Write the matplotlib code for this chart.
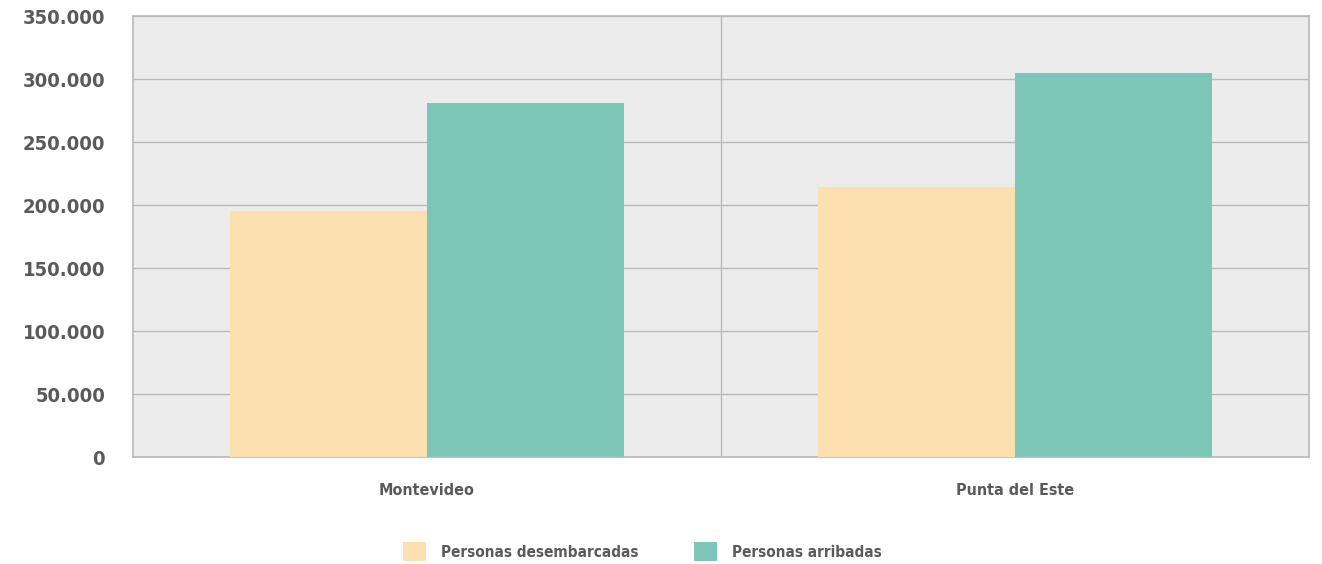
import numpy as np
import matplotlib.pyplot as plt
from matplotlib.patches import Patch
from matplotlib.ticker import FuncFormatter

plt.rcParams['font.family'] = ['DejaVu Sans']
plt.rcParams['font.stretch'] = 'condensed'
plt.rcParams['font.weight'] = 'bold'

# data
ports = ["Montevideo", "Punta del Este"]
desembarcadas = [195000, 214000]
arribadas = [281000, 305000]
series_names = ["Personas desembarcadas", "Personas arribadas"]
colors = ["#fde0b0", "#7cc5b7"]
text_color = "#5a5a5a"
grid_color = "#b9b9b9"

fig = plt.figure(figsize=(13.22, 5.64), dpi=100)
ax = fig.add_axes([0.1006, 0.1897, 0.8896, 0.7819])
ax.set_facecolor("#ececec")

x = np.arange(len(ports)) + 0.5
w = 0.335
ax.bar(x - w / 2, desembarcadas, w, color=colors[0], zorder=3)
ax.bar(x + w / 2, arribadas, w, color=colors[1], zorder=3)

ax.set_xlim(0, 2)
ax.set_ylim(0, 350000)
ax.set_yticks(np.arange(0, 350001, 50000))
ax.yaxis.set_major_formatter(FuncFormatter(lambda v, p: f"{int(v):,}".replace(",", ".")))
ax.grid(axis='y', color=grid_color, linewidth=1.0, zorder=1)
ax.axvline(1, color=grid_color, linewidth=1.0, zorder=1)

ax.set_xticks(x)
ax.set_xticklabels(ports)
ax.tick_params(axis='x', length=0, pad=19, labelsize=11.5, labelcolor=text_color)
ax.tick_params(axis='y', length=0, pad=20, labelsize=14.5, labelcolor=text_color)

for s in ax.spines.values():
    s.set_color(grid_color)
    s.set_linewidth(1.2)

handles = [Patch(facecolor=c, edgecolor='none') for c in colors]
leg = fig.legend(handles, series_names, loc='center', bbox_to_anchor=(0.486, 0.022),
                 ncol=2, frameon=False, fontsize=11, handlelength=1.5, handleheight=1.5,
                 columnspacing=3.6, handletextpad=1.0)
for t in leg.get_texts():
    t.set_color(text_color)

fig.savefig("out.png", dpi=100)
